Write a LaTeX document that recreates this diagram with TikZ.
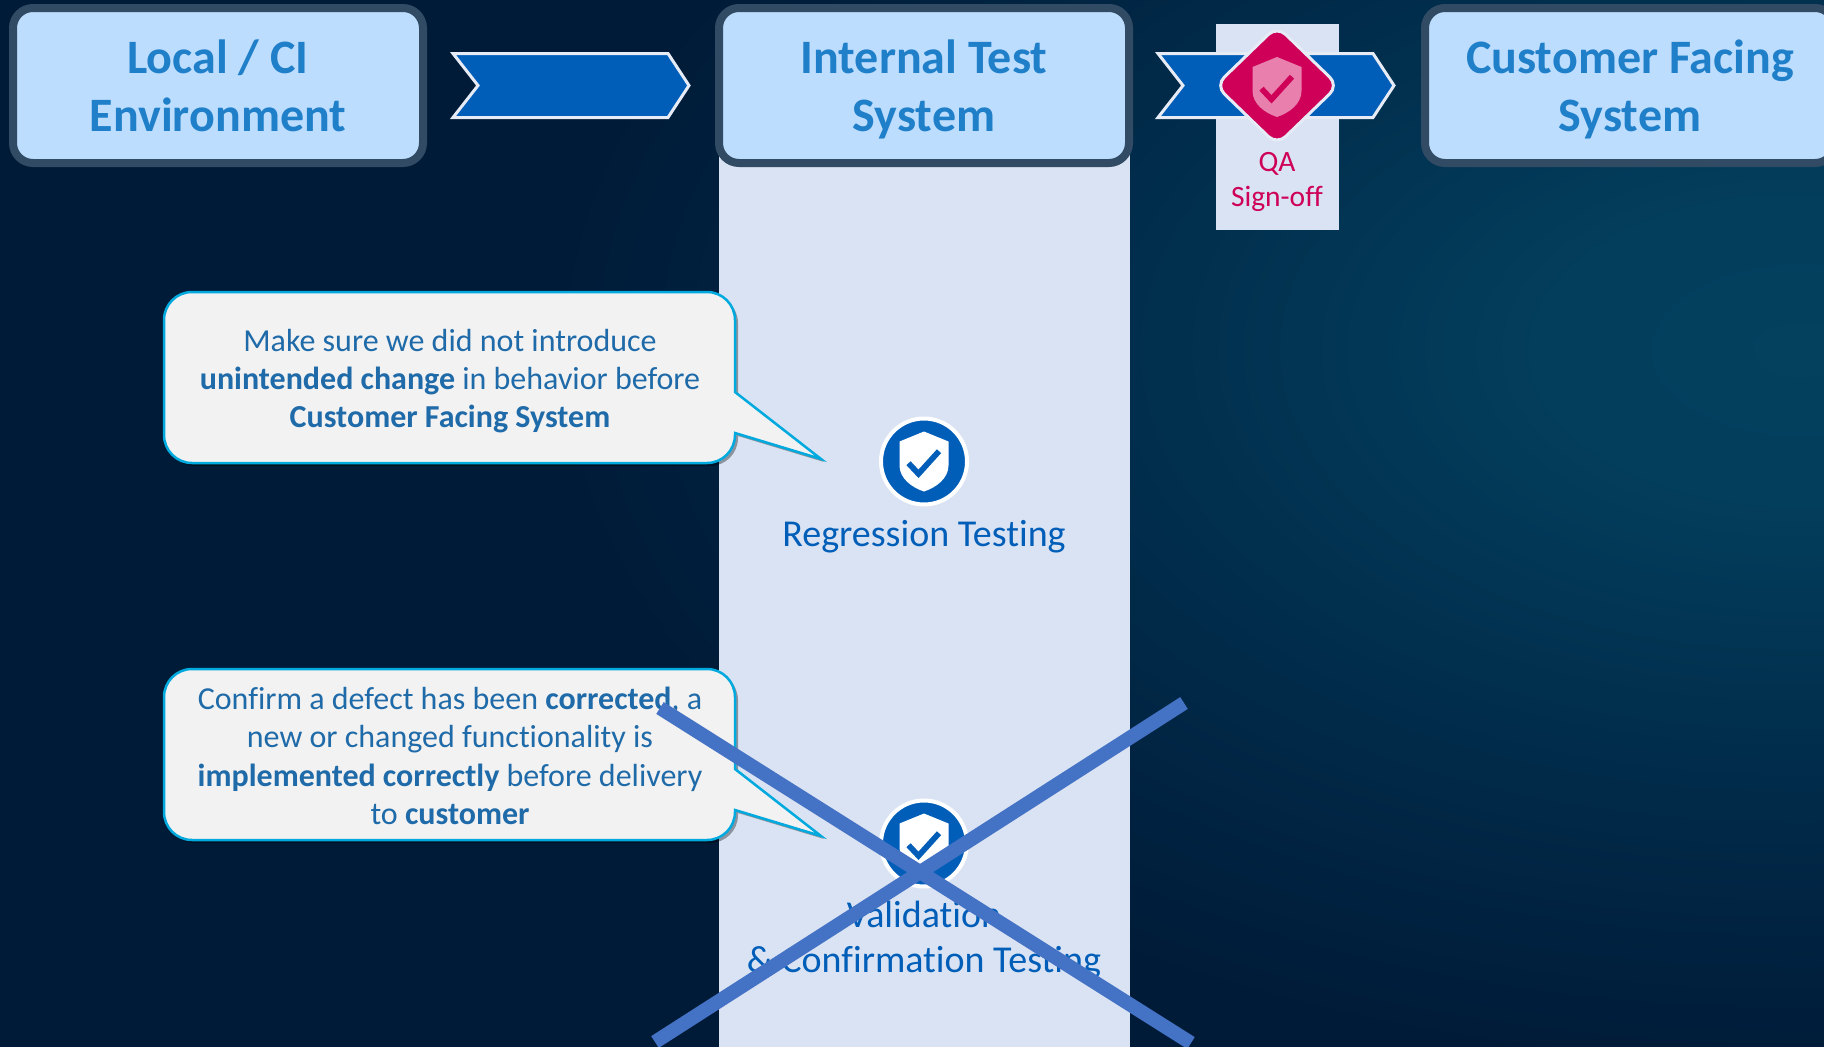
\documentclass[tikz,border=0pt]{standalone}
\usepackage{fontspec}
\setmainfont[Ligatures=NoCommon]{Carlito}
\usetikzlibrary{shapes.geometric,shadows}

\definecolor{bgdark}{HTML}{001B38}
\definecolor{bgmid}{HTML}{012B4A}
\definecolor{bgglow}{HTML}{03415F}
\definecolor{sysfill}{HTML}{BDDDFF}
\definecolor{sysedge}{HTML}{324B64}
\definecolor{systext}{HTML}{1F7FC8}
\definecolor{nhsblue}{HTML}{005EB8}
\definecolor{paleblue}{HTML}{DAE3F3}
\definecolor{paleedge}{HTML}{E6EBF5}
\definecolor{signred}{HTML}{CE0058}
\definecolor{signpink}{HTML}{E97FAD}
\definecolor{bubblefill}{HTML}{F2F2F2}
\definecolor{bubbleedge}{HTML}{00A9DE}
\definecolor{bubbletext}{HTML}{1F6AA8}
\definecolor{crossblue}{HTML}{4472C4}

\pgfdeclareradialshading{glowshade}{\pgfpoint{0bp}{0bp}}{color(0bp)=(bgglow); color(5bp)=(bgglow!88!bgmid); color(15bp)=(bgmid); color(25bp)=(bgdark); color(50bp)=(bgdark)}

% shield icon: centre, shield colour, tick colour
\newcommand{\shieldmark}[3]{
  \fill[#2,shift={(#1)}] (0,-30) -- (24.5,-20) -- (24.5,4)
    .. controls (24.5,17) and (12,26) .. (0,30)
    .. controls (-12,26) and (-24.5,17) .. (-24.5,4) -- (-24.5,-20) -- cycle;
  \draw[#3,shift={(#1)},line width=5.7pt] (-15.5,1.7) -- (-5.5,12.3) -- (15,-10.3);
}
\newcommand{\sysstrut}{\rule[-12.3pt]{0pt}{58pt}}
\newcommand{\bubblepath}{(735,392) -- (735,320) arc [start angle=0,end angle=-90,radius=28]
  -- (192,292) arc [start angle=-90,end angle=-180,radius=28]
  -- (164,435) arc [start angle=180,end angle=90,radius=28]
  -- (707,463) arc [start angle=90,end angle=0,radius=28]
  -- (735,433) -- (821,459) -- cycle}

\begin{document}
\begin{tikzpicture}[x=1pt,y=-1pt,node distance=706pt,
    sys node/.style={rectangle,rounded corners=20pt,draw=sysedge,line width=8pt,fill=sysfill,
      minimum width=410pt,minimum height=155pt,align=center,text=systext,
      font=\fontsize{48}{58}\selectfont\bfseries},
    chevron/.style={draw=paleedge,fill=nhsblue,line width=3pt},
    bubble/.style={draw=bubbleedge,fill=bubblefill,line width=2.5pt,
      drop shadow={shadow xshift=3pt,shadow yshift=-3pt,opacity=.35,fill=black}},
    bubble text/.style={align=center,text=bubbletext,font=\fontsize{32}{38.4}\selectfont},
    badge/.style={circle,draw=white,line width=4pt,fill=nhsblue,minimum size=86pt,inner sep=0pt},
    test label/.style={align=center,text=nhsblue,font=\fontsize{38}{45}\selectfont},
    cross line/.style={crossblue,line width=14pt}]

  \useasboundingbox (0,0) rectangle (1824,1047);
  \clip (0,0) rectangle (1824,1047);

  % background
  \fill[bgdark] (0,0) rectangle (1824,1047);
  \path[shading=glowshade] (1800,350) ellipse [x radius=1250,y radius=720];

  % column and sign-off panel
  \fill[paleblue] (719,100) rectangle (1130,1047);
  \fill[paleblue] (1216,24) rectangle (1339,230);

  % systems
  \node[sys node] (local) at (218,85.5) {Local / CI\sysstrut\\Environment\sysstrut};
  \node[sys node] (internal) [right of=local] {Internal Test\sysstrut\\System\sysstrut};
  \node[sys node] (customer) [right of=internal] {Customer Facing\sysstrut\\System\sysstrut};

  % chevrons
  \draw[chevron] (453,53.5) -- (668,53.5) -- (689,85.5) -- (668,117.5) -- (453,117.5) -- (478,85.5) -- cycle;
  \draw[chevron] (1158,53.5) -- (1373,53.5) -- (1394,85.5) -- (1373,117.5) -- (1158,117.5) -- (1183,85.5) -- cycle;

  % QA sign-off
  \node[diamond,draw=paleedge,line width=3pt,fill=signred,rounded corners=12pt,inner sep=0pt,
        minimum width=124pt,minimum height=120pt] (gem) at (1277,85.5) {};
  \shieldmark{1277,87}{signpink}{signred}
  \node[align=center,text=signred,font=\fontsize{29.5}{35}\selectfont] (qa) at (1277,181.5) {QA\\Sign-off};

  % callouts
  \draw[bubble] \bubblepath;
  \node[bubble text] (why) at (450,381) {Make sure we did not introduce\\
    \textbf{unintended change} in behavior before\\\textbf{Customer Facing System}};
  \draw[bubble,shift={(0,377)}] \bubblepath;
  \node[bubble text] (how) at (450,756) {Confirm a defect has been \textbf{corrected}, a\\
    new or changed functionality is\\\textbf{implemented correctly} before delivery\\to \textbf{customer}};

  % tests
  \node[badge] (regression) at (924,461.5) {};
  \shieldmark{924,461.5}{white}{nhsblue}
  \node[test label,node distance=75pt] (regressionlabel) [below of=regression] {Regression Testing};
  \node[badge] (validation) at (924,843.5) {};
  \shieldmark{924,843.5}{white}{nhsblue}
  \node[test label,node distance=97pt] (validationlabel) [below of=validation] {Validation\\\& Confirmation Testing};

  % crossed out
  \coordinate (crossa) at (660,708);
  \coordinate (crossb) at (1191,1043);
  \coordinate (crossc) at (1184,703);
  \coordinate (crossd) at (655,1042);
  \draw[cross line] (crossa) -- (crossb);
  \draw[cross line] (crossc) -- (crossd);
\end{tikzpicture}
\end{document}
